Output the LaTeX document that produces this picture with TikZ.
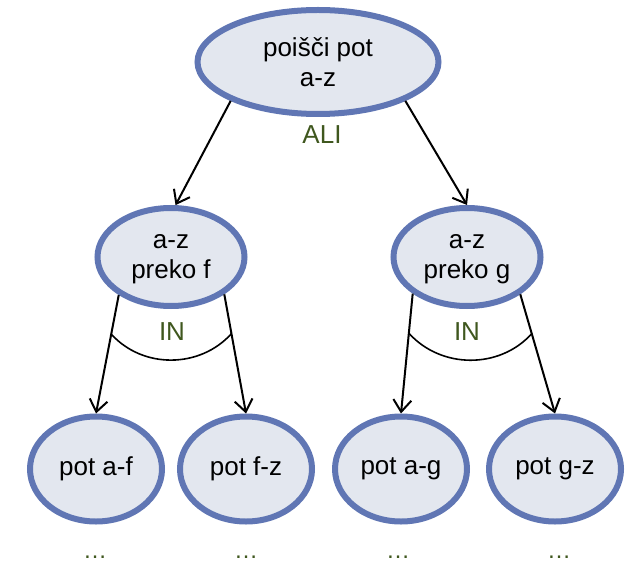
\documentclass[tikz,border=0pt]{standalone}
\usepackage{fontspec}
\setmainfont{Liberation Sans}
\usetikzlibrary{shapes.geometric,arrows.meta,calc}
\definecolor{nodeborder}{RGB}{96,118,180}
\definecolor{nodefill}{RGB}{227,231,239}
\definecolor{opgreen}{RGB}{63,87,30}
\tikzset{
  goal/.style={ellipse, draw=nodeborder, fill=nodefill, line width=6pt,
    inner sep=0pt, align=center, font=\fontsize{26}{30}\selectfont},
  link/.style={line width=2pt, -{Straight Barb[length=12pt,width=18pt,line width=2pt]}},
  oplabel/.style={text=opgreen, font=\fontsize{26}{30}\selectfont},
  andarc/.style={line width=1.6pt},
  more/.style={text=opgreen, font=\fontsize{24}{28}\selectfont, anchor=base, inner sep=0pt}
}
\begin{document}
\begin{tikzpicture}[x=1pt,y=-1pt]
  \useasboundingbox (0,0) rectangle (636,561);

  % goal tree
  \node[goal, minimum width=241pt, minimum height=104pt] (top) at (318,62) {poišči pot\\a-z};
  \node[goal, minimum width=147pt, minimum height=98pt] (ml) at (171,257) {a-z\vphantom{l}\\preko f};
  \node[goal, minimum width=147pt, minimum height=98pt] (mr) at (467,257) {a-z\vphantom{l}\\preko g};
  \node[goal, minimum width=132pt, minimum height=105pt] (af) at (96,469) {pot a-f};
  \node[goal, minimum width=132pt, minimum height=105pt] (fz) at (246,469) {pot f-z};
  \node[goal, minimum width=132pt, minimum height=105pt] (ag) at (401,469) {pot a-g};
  \node[goal, minimum width=132pt, minimum height=105pt] (gz) at (555,469) {pot g-z};

  % OR branch
  \draw[link] (top.204) -- (ml.85);
  \draw[link] (top.336) -- (mr.north);
  \node[oplabel] (ali) at (322,135) {ALI};

  % AND branches
  \draw[link] (ml.216) -- (af.north);
  \draw[link] (ml.325) -- (fz.north);
  \draw[link] (mr.214) -- (ag.north);
  \draw[link] (mr.325) -- (gz.north);
  \path (ml.216) -- (af.north) coordinate[pos=0.33] (inLa);
  \path (ml.325) -- (fz.north) coordinate[pos=0.33] (inLb);
  \path (mr.214) -- (ag.north) coordinate[pos=0.33] (inRa);
  \path (mr.325) -- (gz.north) coordinate[pos=0.33] (inRb);
  \draw[andarc] (inLa) to[out=-48,in=-132] (inLb);
  \draw[andarc] (inRa) to[out=-48,in=-132] (inRb);
  \node[oplabel] (inl) at (172,332) {IN};
  \node[oplabel] (inr) at (467,332) {IN};

  % continuation marks
  \node[more] (m1) at (95,558) {…};
  \node[more] (m2) at (246,558) {…};
  \node[more] (m3) at (398,558) {…};
  \node[more] (m4) at (559,558) {…};
\end{tikzpicture}
\end{document}
